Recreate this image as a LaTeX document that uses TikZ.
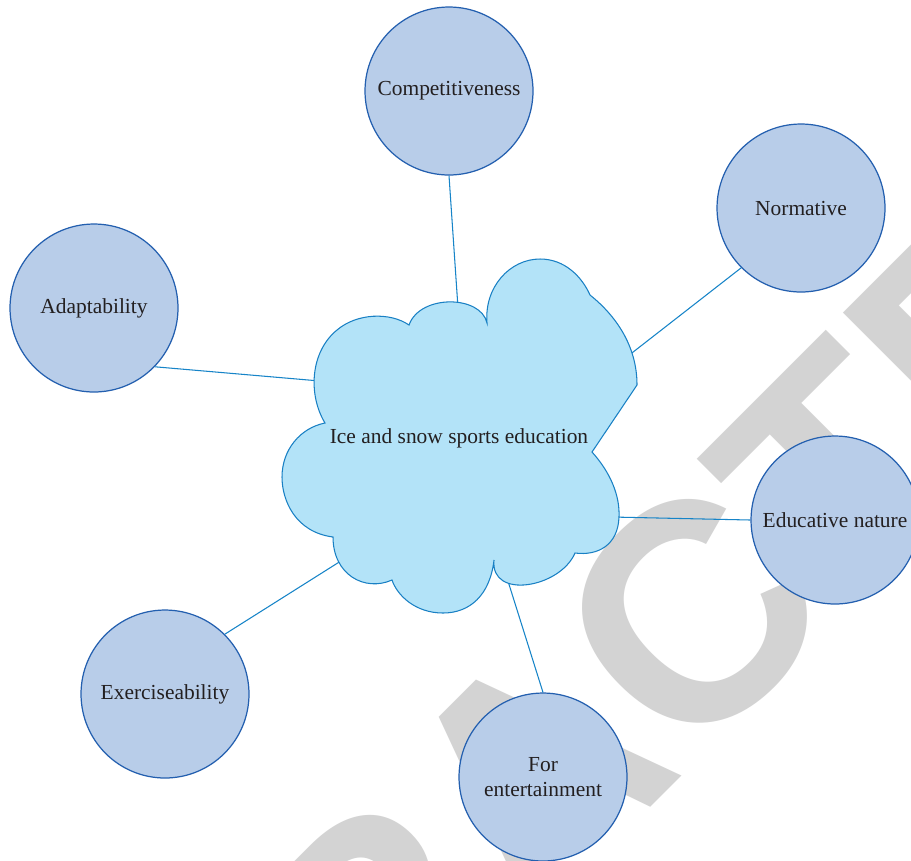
\documentclass[tikz,border=0pt]{standalone}
\usepackage{fontspec}
\setmainfont{Liberation Serif}
\newfontfamily\markfont{Liberation Sans}
\definecolor{bubblefill}{RGB}{184,205,233}
\definecolor{bubbleline}{RGB}{35,95,175}
\definecolor{cloudfill}{RGB}{179,227,248}
\definecolor{cloudline}{RGB}{25,128,196}
\definecolor{linkline}{RGB}{22,132,200}
\definecolor{inktext}{RGB}{35,31,32}
\definecolor{markgray}{RGB}{211,211,211}
\begin{document}
\begin{tikzpicture}[x=0.02cm, y=-0.02cm, every node/.style={font=\fontsize{12.2}{14.6}\selectfont, text=inktext}, bubble/.style={circle,draw=bubbleline,fill=bubblefill,line width=0.7pt,minimum size=3.36cm,inner sep=0pt,align=center}, link/.style={draw=linkline,line width=0.6pt}]
\useasboundingbox (0,0) rectangle (911,860);
\fill[white] (0,0) rectangle (911,860);
\begin{scope}
\clip (0,0) rectangle (911,860);
\node[anchor=base west,inner sep=0pt,rotate=45,text=markgray,font=\markfont\bfseries\fontsize{176.4}{176.4}\selectfont] (mark) at (-67.5,1525.5) {RETRACTED};
\end{scope}
\node[bubble] (comp) at (449,91) {Competitiveness};
\node[bubble] (norm) at (801,208) {Normative};
\node[bubble] (adapt) at (94,308) {Adaptability};
\node[bubble] (educ) at (835,520) {Educative nature};
\node[bubble] (exer) at (165,694) {Exerciseability};
\node[bubble] (ent) at (543,777) {For\\entertainment};
\coordinate (c-comp) at (458,308);
\coordinate (c-norm) at (628,356);
\coordinate (c-adapt) at (320,381);
\coordinate (c-educ) at (612,517);
\coordinate (c-exer) at (344,559);
\coordinate (c-ent) at (507,578);
\draw[link] (comp.south) -- (c-comp);
\draw[link] (norm.-135) -- (c-norm);
\draw[link] (adapt.-44) -- (c-adapt);
\draw[link] (educ.west) -- (c-educ);
\draw[link] (exer.45) -- (c-exer);
\draw[link] (ent.north) -- (c-ent);
\draw[draw=cloudline,fill=cloudfill,line width=0.6pt]
  (409,325) .. controls (420,294) and (481,295) .. (487,323)
  .. controls (484,287) and (510,259) .. (540,259)
  .. controls (565,259) and (582,277) .. (590,295)
  .. controls (615,315) and (637,345) .. (637,385)
  -- (592,452)
  .. controls (610,472) and (620,495) .. (619,517)
  .. controls (618,545) and (598,556) .. (575,553)
  .. controls (560,588) and (490,600) .. (494,560)
  .. controls (490,595) and (470,613) .. (443,613)
  .. controls (415,613) and (397,595) .. (392,580)
  .. controls (365,592) and (333,575) .. (333,537)
  .. controls (295,532) and (282,500) .. (282,477)
  .. controls (282,450) and (300,428) .. (325,423)
  .. controls (308,395) and (310,352) .. (337,330)
  .. controls (357,313) and (390,312) .. (409,325) -- cycle;
\node (core) at (459,438) {Ice and snow sports education};
\end{tikzpicture}
\end{document}
